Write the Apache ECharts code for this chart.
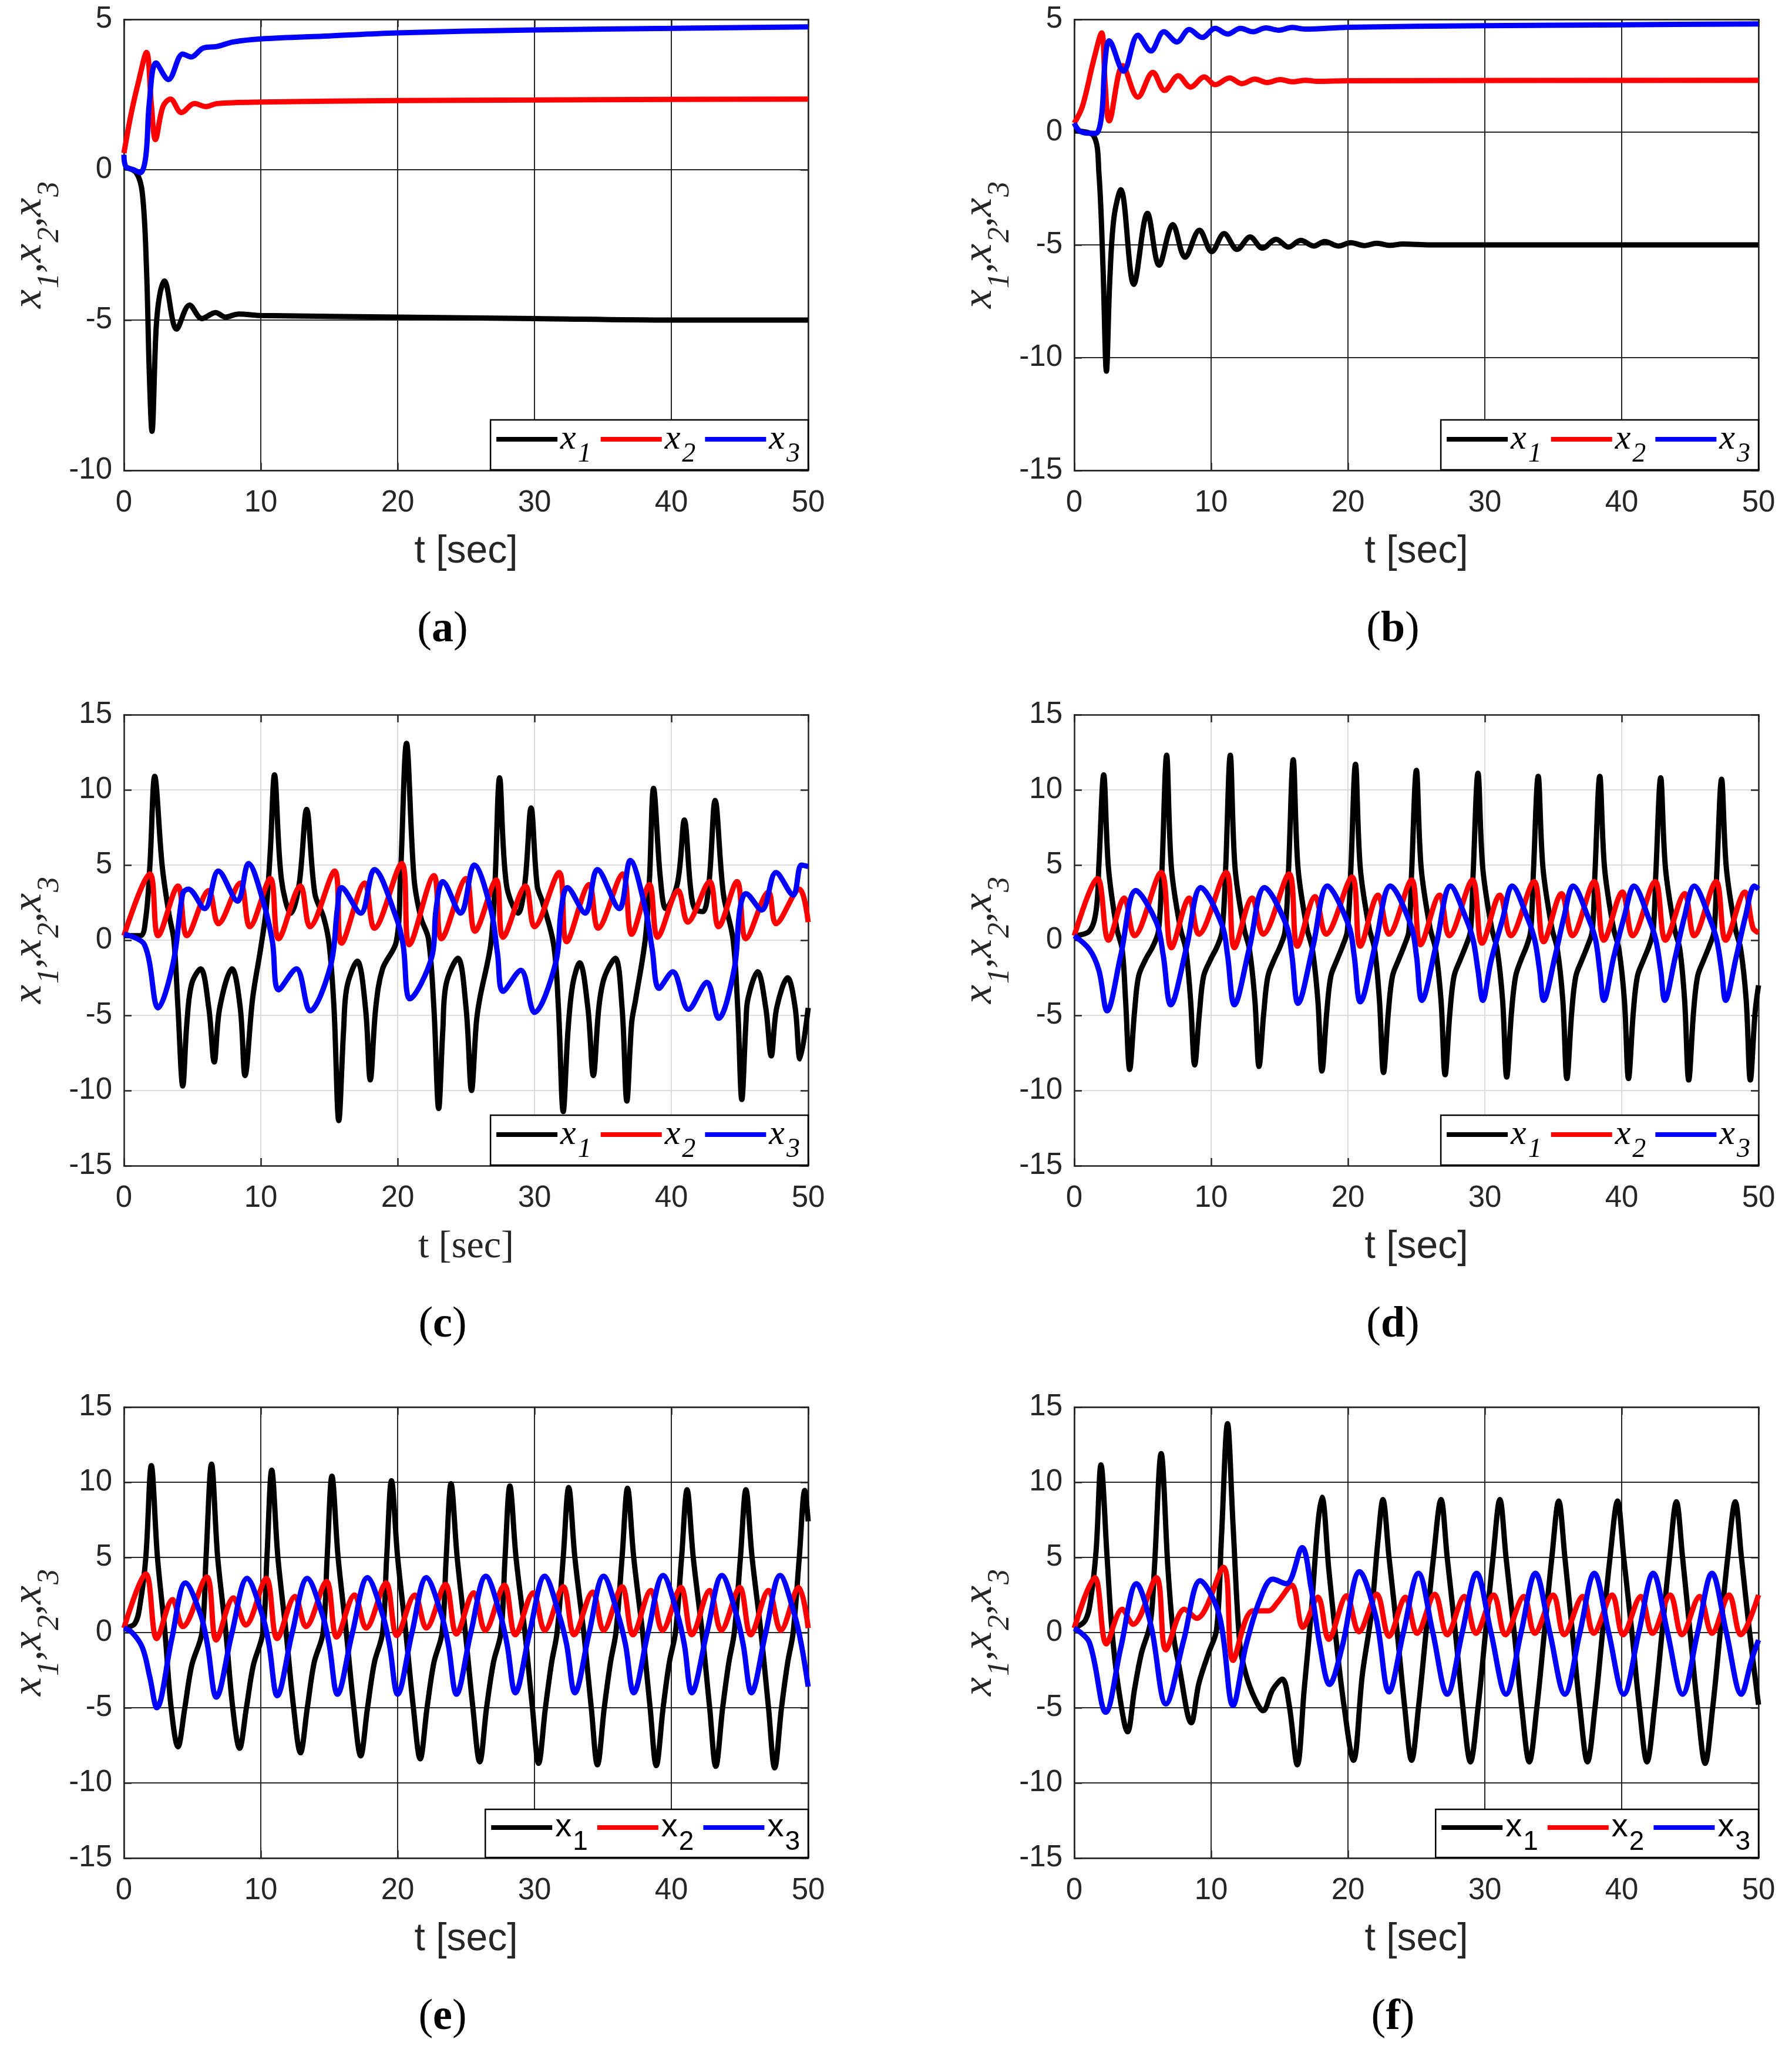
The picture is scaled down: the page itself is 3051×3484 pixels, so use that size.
<!DOCTYPE html>
<html lang="en">
<head>
<meta charset="UTF-8">
<title>x1, x2, x3 time responses</title>
<style>
  html, body { margin: 0; padding: 0; background: #fff; }
  #chart { width: 3051px; height: 3484px; }
</style>
</head>
<body>
<div id="chart"></div>
<script src="https://cdn.jsdelivr.net/npm/echarts@6/dist/echarts.min.js"></script>
<script>
// ---- data: [t, value] pairs ----
var timeTicks = [0, 10, 20, 30, 40, 50];
var seriesNames = ['x1', 'x2', 'x3'];
var panelLabels = ['a', 'b', 'c', 'd', 'e', 'f'];

// (a)
var aX1 = [[0,0.1],[0.9,-0.1],[1.35,-0.8],[1.65,-3.3],[1.85,-6.7],[2.05,-8.7],[2.35,-5.3],[2.6,-4.2],[2.95,-3.7],[3.85,-5.3],[4.8,-4.5],[5.7,-4.95],[6.7,-4.75],[7.4,-4.9],[8.4,-4.8],[10,-4.85],[20,-4.9],[30,-4.95],[40,-5.0],[50,-5.0]];
var aX2 = [[0,0.55],[0.5,1.8],[1.05,2.9],[1.65,3.9],[2.0,2.2],[2.3,1.0],[2.85,2.1],[3.4,2.35],[4.2,1.9],[5.15,2.2],[6.0,2.1],[6.8,2.2],[10,2.25],[20,2.3],[30,2.32],[40,2.34],[50,2.35]];
var aX3 = [[0,0.5],[0.15,0.1],[0.7,0.0],[1.2,-0.1],[1.6,0.45],[1.85,2.2],[2.35,3.55],[3.25,3.0],[4.3,3.85],[4.9,3.75],[5.8,4.05],[6.8,4.1],[8,4.25],[10,4.35],[15,4.45],[20,4.55],[30,4.65],[40,4.7],[50,4.75]];

// (b)
var bX1 = [[0,0.05],[1.4,-0.15],[1.8,-1.8],[2.1,-6.0],[2.35,-10.6],[2.6,-6.5],[2.9,-3.8],[3.4,-2.55],[4.35,-6.75],[5.35,-3.6],[6.2,-5.9],[7.2,-4.1],[8.1,-5.55],[9.15,-4.35],[10.05,-5.3],[10.95,-4.5],[11.9,-5.2],[12.85,-4.65],[13.75,-5.15],[14.75,-4.75],[15.65,-5.1],[16.55,-4.8],[17.5,-5.05],[18.3,-4.85],[19.3,-5.05],[20.2,-4.9],[21.2,-5.03],[22.1,-4.93],[23.1,-5.02],[24,-4.96],[26,-5.0],[50,-5.0]];
var bX2 = [[0,0.4],[0.6,1.15],[1.4,3.15],[2.0,4.4],[2.25,2.2],[2.55,0.5],[3.55,2.95],[4.65,1.55],[5.75,2.65],[6.6,1.85],[7.6,2.5],[8.5,2.0],[9.5,2.45],[10.3,2.1],[11.35,2.4],[12.25,2.15],[13.2,2.35],[14.1,2.2],[15.05,2.33],[15.95,2.23],[16.9,2.3],[17.8,2.25],[20,2.28],[50,2.3]];
var bX3 = [[0,0.4],[0.4,0.05],[1.2,-0.05],[1.6,-0.05],[2.0,0.75],[2.25,3.15],[2.55,4.05],[3.6,2.7],[4.65,4.3],[5.6,3.6],[6.55,4.45],[7.5,4.0],[8.4,4.55],[9.35,4.2],[10.3,4.6],[11.2,4.35],[12.15,4.6],[13.05,4.45],[14.0,4.62],[14.95,4.52],[15.9,4.64],[16.85,4.57],[20,4.65],[30,4.72],[40,4.76],[50,4.8]];

// (c)
var cX1 = [[0,0.3],[1.2,0.3],[1.6,1.5],[1.9,5.0],[2.25,10.9],[2.8,4.9],[3.3,1.7],[3.65,0.0],[3.95,-4.5],[4.3,-9.7],[4.6,-5.5],[4.95,-2.9],[5.6,-1.9],[6.2,-4.5],[6.6,-8.1],[7.0,-4.5],[7.9,-1.9],[8.5,-4.5],[8.85,-9.0],[9.4,-3.9],[10.0,-0.5],[10.4,2.1],[10.7,6.0],[11.0,11.0],[11.5,4.1],[12.2,1.8],[12.8,3.7],[13.35,8.7],[13.95,3.1],[14.6,1.5],[15.0,-0.3],[15.35,-4.5],[15.7,-12.0],[16.05,-6.0],[16.3,-3.1],[17.05,-1.4],[17.65,-4.5],[18.0,-9.3],[18.4,-4.5],[18.9,-1.9],[19.9,-0.1],[20.2,4.1],[20.65,13.1],[21.2,4.1],[21.7,1.5],[22.25,0.1],[22.65,-4.5],[23.0,-11.2],[23.3,-6.0],[23.55,-2.9],[24.4,-1.2],[25.0,-4.5],[25.4,-10.0],[25.75,-5.5],[26.0,-3.9],[26.8,-0.3],[27.1,3.5],[27.45,10.8],[27.95,3.7],[28.8,1.8],[29.3,3.8],[29.75,8.8],[30.2,3.6],[30.6,2.5],[31.4,-0.3],[31.75,-4.5],[32.1,-11.4],[32.45,-6.0],[32.8,-2.9],[33.3,-1.5],[33.9,-4.5],[34.3,-9.0],[34.7,-4.5],[35.1,-2.5],[35.9,-1.2],[36.4,-4.5],[36.75,-10.7],[37.1,-5.5],[37.4,-3.9],[38.1,0.1],[38.4,4.0],[38.7,10.1],[39.2,4.1],[39.6,2.1],[40.45,3.8],[40.95,8.0],[41.4,3.5],[41.7,2.1],[42.3,1.9],[42.75,3.8],[43.2,9.3],[43.8,3.1],[44.5,0.1],[44.85,-4.5],[45.15,-10.6],[45.45,-5.5],[45.6,-3.9],[46.3,-2.1],[46.9,-4.5],[47.3,-7.7],[47.7,-4.5],[48.5,-2.5],[49.05,-4.5],[49.4,-7.9],[50,-4.5]];
var cX2 = [[0,0.3],[1.9,4.4],[2.5,0.3],[3.95,3.6],[4.6,0.3],[6.2,3.3],[6.9,1.1],[8.5,3.8],[9.2,0.9],[10.7,4.1],[11.3,0.1],[12.9,3.6],[13.6,0.9],[15.4,4.6],[15.9,-0.2],[17.6,3.8],[18.3,0.8],[20.3,5.1],[20.85,-0.3],[22.65,4.3],[23.2,0.1],[25.0,4.1],[25.65,0.6],[27.2,4.0],[27.7,0.2],[29.35,3.6],[30.0,0.9],[31.8,4.5],[32.35,-0.1],[34.0,3.7],[34.65,0.8],[36.45,4.4],[37.1,0.4],[38.4,3.7],[39.0,0.2],[40.5,3.3],[41.2,1.2],[42.8,3.9],[43.45,0.9],[44.8,3.9],[45.45,0.1],[47.1,3.2],[47.65,1.1],[49.35,3.4],[50,1.2]];
var cX3 = [[0,0.4],[1.5,-0.3],[2.5,-4.5],[3.6,-1.5],[4.3,3.1],[4.7,3.4],[5.9,2.1],[6.9,4.6],[8.3,2.6],[9.1,5.1],[10.2,2.5],[10.85,-0.1],[11.3,-3.3],[12.6,-1.9],[13.6,-4.7],[15.1,-1.7],[15.6,2.1],[15.9,3.5],[17.3,1.8],[18.3,4.7],[19.9,1.5],[20.4,-0.3],[20.9,-3.9],[22.5,-1.1],[22.8,2.0],[23.3,3.9],[24.6,1.8],[25.6,5.0],[26.8,2.1],[27.3,-0.9],[27.7,-3.4],[29.0,-2.0],[30.0,-4.8],[31.55,-1.5],[31.95,2.0],[32.4,3.5],[33.7,1.8],[34.6,4.7],[36.2,2.1],[37.0,5.3],[38.1,2.1],[38.6,-0.6],[39.1,-3.2],[40.1,-2.1],[41.25,-4.6],[42.6,-2.8],[43.45,-5.2],[44.6,-1.9],[45.0,2.0],[45.45,3.1],[46.6,2.0],[47.65,4.5],[48.9,3.0],[49.5,5.0],[50,4.9]];

// (d)
var dX1 = [[0,0.3],[1.1,0.6],[1.6,2.0],[1.8,5.0],[2.15,11.0],[2.5,4.8],[3.1,0.8],[3.5,-0.6],[3.75,-4.0],[4.05,-8.6],[4.4,-4.8],[4.7,-2.4],[5.2,-1.3],[5.75,-0.4],[6.15,0.6],[6.4,4.5],[6.75,12.3],[7.1,4.8],[7.75,0.8],[8.15,-0.6],[8.5,-4.0],[8.8,-8.3],[9.15,-4.8],[9.45,-2.4],[9.95,-1.3],[10.45,-0.4],[10.8,0.6],[11.05,4.5],[11.4,12.3],[11.75,4.8],[12.4,0.8],[12.8,-0.6],[13.2,-4.0],[13.5,-8.4],[13.85,-4.8],[14.15,-2.4],[14.6,-1.3],[15.05,-0.4],[15.4,0.6],[15.65,4.5],[16.0,12.0],[16.35,4.8],[17.0,0.8],[17.4,-0.6],[17.8,-4.0],[18.1,-8.7],[18.45,-4.8],[18.75,-2.4],[19.2,-1.3],[19.6,-0.4],[19.95,0.6],[20.2,4.5],[20.55,11.7],[20.9,4.8],[21.55,0.8],[21.95,-0.6],[22.3,-4.0],[22.6,-8.8],[22.95,-4.8],[23.25,-2.4],[23.7,-1.3],[24.1,-0.4],[24.45,0.6],[24.65,4.5],[25.0,11.3],[25.35,4.8],[26.0,0.8],[26.4,-0.6],[26.8,-4.0],[27.1,-8.95],[27.45,-4.8],[27.75,-2.4],[28.2,-1.3],[28.6,-0.4],[28.95,0.6],[29.15,4.5],[29.5,11.1],[29.85,4.8],[30.5,0.8],[30.9,-0.6],[31.3,-4.0],[31.6,-9.1],[31.95,-4.8],[32.25,-2.4],[32.65,-1.3],[33.05,-0.4],[33.35,0.6],[33.55,4.5],[33.9,10.9],[34.25,4.8],[34.9,0.8],[35.3,-0.6],[35.7,-4.0],[36.0,-9.2],[36.35,-4.8],[36.65,-2.4],[37.1,-1.3],[37.5,-0.4],[37.85,0.6],[38.05,4.5],[38.4,10.9],[38.75,4.8],[39.4,0.8],[39.8,-0.6],[40.2,-4.0],[40.5,-9.2],[40.85,-4.8],[41.15,-2.4],[41.6,-1.3],[42.0,-0.4],[42.3,0.6],[42.5,4.5],[42.85,10.8],[43.2,4.8],[43.85,0.8],[44.25,-0.6],[44.6,-4.0],[44.9,-9.3],[45.25,-4.8],[45.55,-2.4],[46.0,-1.3],[46.4,-0.4],[46.75,0.6],[46.95,4.5],[47.3,10.7],[47.65,4.8],[48.3,0.8],[48.7,-0.6],[49.1,-4.0],[49.4,-9.3],[49.75,-4.8],[50,-3.0]];
var dX2 = [[0,0.3],[1.7,4.1],[2.5,0.0],[3.65,2.8],[4.4,0.3],[6.35,4.5],[7.1,-0.5],[8.4,2.8],[9.1,0.4],[11.1,4.5],[11.7,-0.5],[13.0,2.8],[13.8,0.4],[15.7,4.4],[16.3,-0.4],[17.6,2.9],[18.4,0.4],[20.3,4.2],[20.9,-0.4],[22.2,3.0],[23.0,0.4],[24.65,4.0],[25.3,-0.3],[26.7,3.0],[27.4,0.3],[29.1,4.0],[29.8,-0.2],[31.1,3.0],[31.9,0.3],[33.6,3.9],[34.3,-0.1],[35.6,3.1],[36.4,0.3],[38.0,3.9],[38.7,0.0],[40.05,3.2],[40.8,0.3],[42.45,3.9],[43.2,0.0],[44.6,3.1],[45.3,0.3],[46.9,3.9],[47.6,0.0],[49.0,3.2],[49.6,0.8],[50,0.5]];
var dX3 = [[0,0.3],[1.1,-0.6],[1.8,-2.0],[2.4,-4.7],[3.4,-1.0],[4.5,3.3],[6.0,1.2],[6.5,-1.0],[7.05,-4.3],[8.2,-0.5],[9.25,3.5],[10.8,1.0],[11.2,-1.0],[11.7,-4.3],[12.8,-0.5],[13.9,3.5],[15.5,1.0],[15.9,-1.0],[16.35,-4.2],[17.45,-0.4],[18.5,3.6],[20.05,1.0],[20.45,-1.0],[20.9,-4.1],[22.0,-0.3],[23.1,3.6],[24.6,1.0],[25.0,-1.0],[25.4,-4.0],[26.45,-0.3],[27.5,3.6],[28.65,1.4],[29.15,0.0],[29.5,-2.0],[29.85,-4.0],[30.45,-1.4],[31.3,1.4],[32.0,3.6],[33.15,1.4],[33.65,0.0],[34.0,-2.0],[34.3,-4.0],[35.1,-1.2],[35.8,1.6],[36.45,3.6],[37.6,1.4],[38.1,0.0],[38.4,-2.0],[38.7,-4.0],[39.4,-1.2],[40.2,1.6],[40.9,3.6],[42.0,1.4],[42.5,0.0],[42.85,-2.0],[43.15,-4.0],[43.9,-1.2],[44.6,1.6],[45.3,3.6],[46.45,1.4],[46.95,0.0],[47.3,-2.0],[47.6,-4.0],[48.35,-1.2],[49.05,1.6],[49.7,3.6],[50,3.4]];

// (e)
var eX1 = [[0,0.3],[0.8,0.6],[1.2,2.0],[1.6,5.0],[2.0,11.1],[2.45,5.0],[3.0,0.0],[3.45,-5.0],[3.95,-7.6],[4.45,-5.0],[4.95,-2.2],[5.7,0.0],[6.0,5.0],[6.4,11.2],[6.85,5.0],[7.45,0.0],[7.95,-5.0],[8.45,-7.7],[8.95,-5.0],[9.45,-2.2],[10.15,0.0],[10.45,5.0],[10.8,10.8],[11.25,5.0],[11.85,0.0],[12.4,-5.0],[12.9,-8.0],[13.4,-5.0],[13.9,-2.0],[14.55,0.0],[14.85,5.0],[15.2,10.4],[15.65,5.0],[16.25,0.0],[16.8,-5.0],[17.3,-8.2],[17.8,-5.0],[18.3,-2.0],[18.9,0.0],[19.2,5.0],[19.55,10.1],[20.0,5.0],[20.6,0.0],[21.15,-5.0],[21.65,-8.4],[22.15,-5.0],[22.65,-2.0],[23.25,0.0],[23.55,5.0],[23.9,9.9],[24.35,5.0],[24.95,0.0],[25.5,-5.0],[26.0,-8.6],[26.5,-5.0],[27.0,-2.0],[27.55,0.0],[27.85,5.0],[28.2,9.75],[28.65,5.0],[29.3,0.0],[29.85,-5.0],[30.3,-8.7],[30.8,-5.0],[31.25,-2.0],[31.65,0.0],[32.1,5.0],[32.5,9.65],[32.95,5.0],[33.6,0.0],[34.15,-5.0],[34.6,-8.8],[35.1,-5.0],[35.55,-2.0],[35.95,0.0],[36.4,5.0],[36.8,9.6],[37.25,5.0],[37.9,0.0],[38.45,-5.0],[38.9,-8.85],[39.4,-5.0],[39.85,-2.0],[40.3,0.0],[40.75,5.0],[41.15,9.5],[41.6,5.0],[42.25,0.0],[42.8,-5.0],[43.25,-8.9],[43.75,-5.0],[44.2,-2.0],[44.6,0.0],[45.05,5.0],[45.45,9.5],[45.9,5.0],[46.55,0.0],[47.1,-5.0],[47.55,-9.0],[48.05,-5.0],[48.5,-2.0],[48.9,0.0],[49.35,5.0],[49.75,9.45],[50,7.4]];
var eX2 = [[0,0.3],[1.6,3.9],[2.4,-0.4],[3.55,2.2],[4.3,0.4],[6.05,3.7],[6.75,-0.5],[8.0,2.3],[8.9,0.5],[10.4,3.6],[11.2,-0.4],[12.5,2.4],[13.3,0.4],[14.8,3.4],[15.55,-0.3],[16.85,2.5],[17.7,0.3],[19.15,3.3],[19.95,-0.2],[21.25,2.5],[22.1,0.3],[23.5,3.2],[24.3,-0.1],[25.55,2.65],[26.4,0.15],[27.8,3.15],[28.6,-0.15],[29.9,2.65],[30.75,0.15],[32.1,3.05],[32.9,-0.15],[34.25,2.7],[35.05,0.15],[36.4,3.05],[37.2,-0.15],[38.5,2.8],[39.35,0.15],[40.7,3.0],[41.5,-0.15],[42.8,2.8],[43.65,0.15],[45.0,3.0],[45.8,-0.15],[47.1,2.8],[48.0,0.15],[49.3,3.0],[50,0.3]];
var eX3 = [[0,0.3],[0.6,0.0],[1.35,-1.0],[1.9,-3.0],[2.4,-5.0],[3.5,-0.4],[4.5,3.3],[5.6,1.2],[6.1,-0.8],[6.75,-4.3],[7.9,0.0],[9.0,3.6],[10.1,1.2],[10.6,-0.8],[11.2,-4.2],[12.3,0.0],[13.4,3.6],[14.5,1.2],[15.0,-0.8],[15.6,-4.1],[16.7,0.0],[17.8,3.65],[18.9,1.2],[19.4,-0.8],[20.0,-4.1],[21.05,0.0],[22.1,3.65],[23.2,1.2],[23.7,-0.8],[24.3,-4.1],[25.35,0.0],[26.45,3.75],[27.5,1.2],[28.0,-0.8],[28.6,-4.0],[29.65,0.0],[30.75,3.75],[31.8,1.2],[32.35,-0.8],[32.95,-4.0],[34.0,0.0],[35.05,3.75],[36.1,1.2],[36.65,-0.8],[37.25,-4.0],[38.3,0.0],[39.4,3.8],[40.45,1.2],[40.95,-0.8],[41.5,-4.0],[42.6,0.0],[43.7,3.8],[44.75,1.2],[45.25,-0.8],[45.85,-4.0],[46.9,0.0],[47.95,3.8],[49.0,1.2],[49.5,-0.8],[50,-3.6]];

// (f)
var fX1 = [[0,0.3],[0.8,0.8],[1.2,2.2],[1.6,5.5],[1.95,11.15],[2.4,5.0],[2.75,0.2],[3.25,-3.8],[3.9,-6.6],[4.4,-3.8],[4.9,-1.4],[5.55,0.6],[5.85,4.2],[6.35,11.9],[6.85,4.2],[7.25,-0.2],[7.65,-2.2],[8.55,-6.0],[9.1,-3.4],[9.8,-1.4],[10.4,0.2],[10.75,6.2],[11.2,13.9],[11.6,7.2],[12.1,-0.8],[12.55,-2.8],[13.2,-4.4],[13.8,-5.2],[14.5,-3.8],[15.2,-3.1],[15.7,-4.8],[16.3,-8.8],[16.8,-3.8],[17.3,1.2],[17.8,7.2],[18.1,9.0],[18.6,4.2],[19.1,-0.2],[19.7,-4.8],[20.4,-8.5],[21.05,-2.8],[21.7,1.2],[22.2,6.2],[22.55,8.85],[23.0,5.0],[23.6,0.0],[24.15,-5.0],[24.65,-8.5],[25.15,-5.0],[25.7,0.0],[26.25,5.0],[26.8,8.85],[27.25,5.0],[27.85,0.0],[28.4,-5.0],[28.95,-8.6],[29.5,-5.0],[30.05,0.0],[30.6,5.0],[31.1,8.85],[31.55,5.0],[32.15,0.0],[32.7,-5.0],[33.25,-8.6],[33.8,-5.0],[34.35,0.0],[34.9,5.0],[35.4,8.75],[35.85,5.0],[36.4,0.0],[36.95,-5.0],[37.5,-8.6],[38.05,-5.0],[38.6,0.0],[39.15,5.0],[39.7,8.75],[40.15,5.0],[40.75,0.0],[41.3,-5.0],[41.85,-8.6],[42.4,-5.0],[42.95,0.0],[43.5,5.0],[44.0,8.7],[44.45,5.0],[45.0,0.0],[45.55,-5.0],[46.1,-8.7],[46.65,-5.0],[47.2,0.0],[47.75,5.0],[48.3,8.7],[48.75,5.0],[49.35,0.0],[50,-4.8]];
var fX2 = [[0,0.3],[1.5,3.65],[2.35,-0.75],[3.5,1.55],[4.3,0.55],[6.0,3.65],[6.7,-1.15],[8.05,1.55],[8.95,0.95],[10.9,4.35],[11.6,-1.85],[13.05,1.45],[14.2,1.45],[14.85,2.0],[15.9,3.15],[16.7,0.35],[17.8,2.35],[18.6,-0.45],[19.9,2.45],[20.8,0.05],[22.1,2.55],[23.0,-0.25],[24.2,2.35],[25.05,-0.05],[26.35,2.55],[27.25,-0.15],[28.5,2.4],[29.35,-0.05],[30.65,2.5],[31.5,-0.15],[32.85,2.4],[33.65,-0.05],[35.0,2.5],[35.8,-0.15],[37.15,2.4],[37.95,-0.05],[39.3,2.5],[40.1,-0.15],[41.4,2.4],[42.25,-0.05],[43.55,2.5],[44.4,-0.15],[45.7,2.4],[46.6,-0.05],[47.85,2.5],[48.7,-0.15],[50,2.5]];
var fX3 = [[0,0.3],[1.1,-0.65],[2.3,-5.3],[3.4,-1.0],[4.55,3.25],[5.6,0.5],[6.7,-4.75],[8.0,-0.5],[9.2,3.45],[10.6,1.15],[11.6,-4.85],[12.55,-0.85],[13.55,2.15],[14.5,3.55],[15.5,3.25],[16.65,5.65],[17.3,3.0],[17.95,-0.85],[18.65,-3.45],[19.6,-0.85],[20.85,4.05],[22.05,1.0],[23.0,-3.95],[24.05,0.0],[25.15,3.95],[26.2,0.0],[27.25,-4.1],[28.35,0.0],[29.4,3.95],[30.45,0.0],[31.55,-4.1],[32.65,0.0],[33.7,3.95],[34.75,0.0],[35.85,-4.1],[36.95,0.0],[38.0,3.95],[39.05,0.0],[40.15,-4.1],[41.25,0.0],[42.3,3.95],[43.35,0.0],[44.45,-4.1],[45.55,0.0],[46.6,3.95],[47.65,0.0],[48.75,-4.1],[49.5,-1.8],[50,-0.5]];

// ---- layout ----
var W = 3051, H = 3484;
var colLeft = [211, 1829];
var rowTop = [33, 1217, 2396];
var plotW = 1165, plotH = 768;
var ink = '#262626';
var lineColors = ['#000000', '#ff0000', '#0000ff'];

var panels = [
  { data: [aX1, aX2, aX3], yMin: -10, yMax: 5,  grid: 'dark',  legend: 'serif', xName: 'sans' },
  { data: [bX1, bX2, bX3], yMin: -15, yMax: 5,  grid: 'dark',  legend: 'serif', xName: 'sans' },
  { data: [cX1, cX2, cX3], yMin: -15, yMax: 15, grid: 'light', legend: 'serif', xName: 'serif' },
  { data: [dX1, dX2, dX3], yMin: -15, yMax: 15, grid: 'light', legend: 'serif', xName: 'sans' },
  { data: [eX1, eX2, eX3], yMin: -15, yMax: 15, grid: 'dark',  legend: 'sans',  xName: 'sans' },
  { data: [fX1, fX2, fX3], yMin: -15, yMax: 15, grid: 'dark',  legend: 'sans',  xName: 'sans' }
];

var SANS = 'Liberation Sans, Arial, sans-serif';
var SERIF = 'Liberation Serif, Times New Roman, serif';

var yNameRich = {
  x: { fontFamily: SERIF, fontStyle: 'italic', fontSize: 72, color: ink },
  s: { fontFamily: SERIF, fontStyle: 'italic', fontSize: 52, color: ink, padding: [70, 0, 0, 2] }
};
var legendRich = {
  serif: {
    x: { fontFamily: SERIF, fontStyle: 'italic', fontSize: 60, color: '#000' },
    s: { fontFamily: SERIF, fontStyle: 'italic', fontSize: 46, color: '#000', padding: [52, 0, 0, 3] }
  },
  sans: {
    x: { fontFamily: SANS, fontSize: 56, color: '#000' },
    s: { fontFamily: SANS, fontSize: 46, color: '#000', padding: [50, 0, 0, 2] }
  }
};

var grids = [], xAxes = [], yAxes = [], series = [], legends = [], graphics = [];

panels.forEach(function (p, i) {
  var col = i % 2, row = Math.floor(i / 2);
  var left = colLeft[col], top = rowTop[row];
  grids.push({ left: left, top: top, width: plotW, height: plotH, outerBoundsMode: 'none', containLabel: false });

  var gridColor = p.grid === 'dark' ? ink : '#dcdcdc';
  var frame = { show: true, onZero: false, lineStyle: { color: ink, width: 2.5 } };
  var ticks = { show: true, inside: true, length: 13, lineStyle: { color: ink, width: 2.5 } };

  xAxes.push({
    type: 'value', gridIndex: i, position: 'bottom', min: 0, max: 50, interval: 10,
    axisLine: frame, axisTick: ticks,
    axisLabel: { fontFamily: SANS, fontSize: 51, color: ink, margin: 30,
                 formatter: function (v) { return timeTicks.indexOf(v) >= 0 ? String(v) : ''; } },
    splitLine: { show: true, lineStyle: { color: gridColor, width: 2 } },
    name: 't [sec]', nameLocation: 'middle', nameGap: 106,
    nameTextStyle: { fontFamily: p.xName === 'serif' ? SERIF : SANS, fontSize: 66, color: ink }
  });
  xAxes.push({
    type: 'value', gridIndex: i, position: 'top', min: 0, max: 50, interval: 10,
    axisLine: frame, axisTick: ticks, axisLabel: { show: false }, splitLine: { show: false }
  });

  yAxes.push({
    type: 'value', gridIndex: i, position: 'left', min: p.yMin, max: p.yMax, interval: 5,
    axisLine: frame, axisTick: ticks,
    axisLabel: { fontFamily: SANS, fontSize: 51, color: ink, margin: 20 },
    splitLine: { show: true, lineStyle: { color: gridColor, width: 2 } },
    name: '{x|x}{s|1}{x|,}{x|x}{s|2}{x|,}{x|x}{s|3}',
    nameLocation: 'middle', nameRotate: 90, nameGap: 100,
    nameTextStyle: { rich: yNameRich }
  });
  yAxes.push({
    type: 'value', gridIndex: i, position: 'right', min: p.yMin, max: p.yMax, interval: 5,
    axisLine: frame, axisTick: ticks, axisLabel: { show: false }, splitLine: { show: false }
  });

  p.data.forEach(function (d, k) {
    series.push({
      name: seriesNames[k], type: 'line', xAxisIndex: 2 * i, yAxisIndex: 2 * i,
      data: d, showSymbol: false, symbol: 'none', smooth: 0.35,
      lineStyle: { color: lineColors[k], width: 9 }, itemStyle: { color: lineColors[k] },
      z: 3 + k, animation: false
    });
  });

  legends.push({
    data: seriesNames, orient: 'horizontal', selectedMode: false,
    right: W - (left + plotW), bottom: H - (top + plotH) + 1,
    icon: 'rect', itemWidth: 104, itemHeight: 8, itemGap: 16,
    padding: [3, 14, 3, 10], borderColor: '#000', borderWidth: 2.5, backgroundColor: '#fff',
    formatter: function (n) { return '{x|x}{s|' + n.slice(1) + '}'; },
    textStyle: { rich: legendRich[p.legend] }, z: 10
  });

  graphics.push({
    type: 'text', x: left + plotW / 2 - 40, y: top + plotH + 272,
    style: {
      text: '{p|(}{b|' + panelLabels[i] + '}{p|)}', align: 'center', verticalAlign: 'middle',
      rich: {
        p: { fontFamily: SERIF, fontSize: 74, color: '#000' },
        b: { fontFamily: SERIF, fontSize: 74, fontWeight: 'bold', color: '#000' }
      }
    }
  });
});

var chart = echarts.init(document.getElementById('chart'), null, { renderer: 'canvas', width: W, height: H });
chart.setOption({
  backgroundColor: '#ffffff',
  animation: false,
  grid: grids,
  xAxis: xAxes,
  yAxis: yAxes,
  legend: legends,
  series: series,
  graphic: graphics
});
</script>
</body>
</html>
